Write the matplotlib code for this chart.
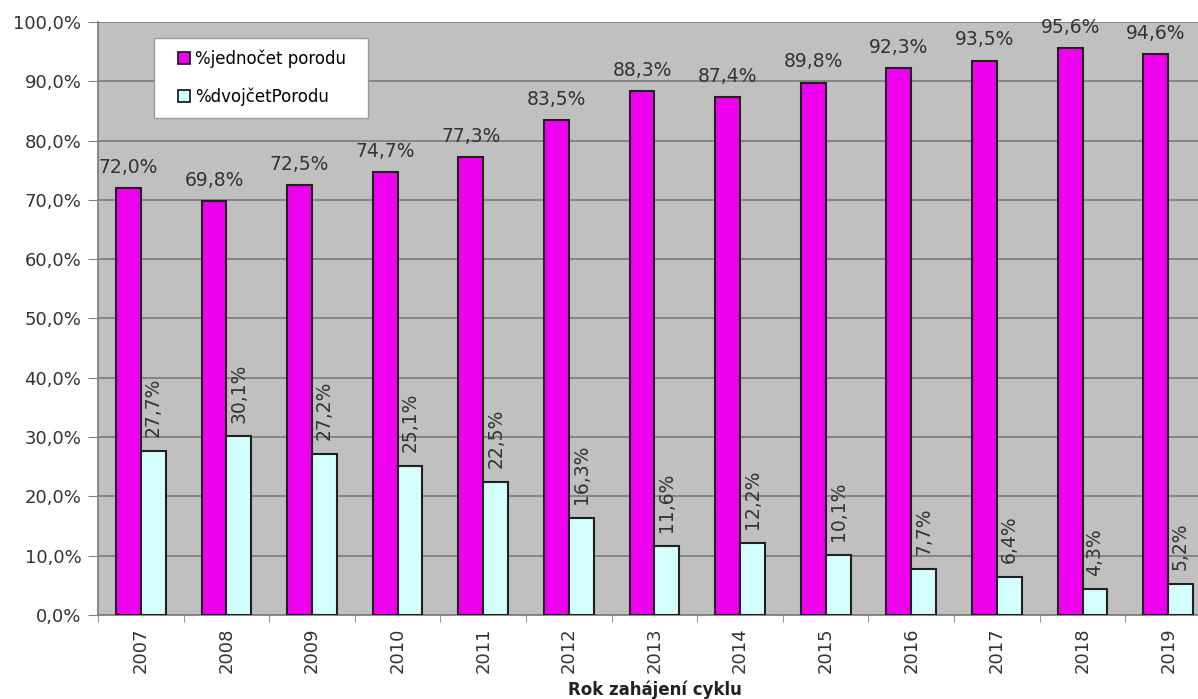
import numpy as np
import matplotlib.pyplot as plt
from matplotlib.ticker import FuncFormatter
from matplotlib.lines import Line2D

years = ['2007', '2008', '2009', '2010', '2011', '2012', '2013',
         '2014', '2015', '2016', '2017', '2018', '2019']
jednocet = [72.0, 69.8, 72.5, 74.7, 77.3, 83.5, 88.3, 87.4, 89.8, 92.3, 93.5, 95.6, 94.6]
dvojcet = [27.7, 30.1, 27.2, 25.1, 22.5, 16.3, 11.6, 12.2, 10.1, 7.7, 6.4, 4.3, 5.2]

plt.rcParams['font.family'] = ['DejaVu Sans']

barva1 = '#ee00ee'
barva2 = '#d4ffff'

def pct(v):
    return ('%.1f%%' % v).replace('.', ',')

fig = plt.figure(figsize=(11.98, 6.99), dpi=100)
ax = fig.add_axes([0.0818, 0.1202, 0.929, 0.8483])
ax.set_facecolor('#c0c0c0')

x = np.arange(len(years))
w = 0.29
ax.bar(x - w / 2, jednocet, w, color=barva1, edgecolor='#202020', linewidth=1.5, zorder=3)
ax.bar(x + w / 2, dvojcet, w, color=barva2, edgecolor='#202020', linewidth=1.5, zorder=3)

# popisky hodnot
for xi, v in zip(x, jednocet):
    ax.annotate(pct(v), (xi - w / 2, v), xytext=(0, 8), textcoords='offset points',
                ha='center', va='bottom', fontsize=13.5, color='#333333')
for xi, v in zip(x, dvojcet):
    ax.annotate(pct(v), (xi + w / 2, v), xytext=(0, 10), textcoords='offset points',
                ha='center', va='bottom', rotation=90, fontsize=13.5, color='#333333')

ax.set_xlim(-0.5, len(years) - 0.5)
ax.set_ylim(0, 100)
ax.set_yticks(np.arange(0, 101, 10))
ax.yaxis.set_major_formatter(FuncFormatter(lambda v, p: pct(v)))
ax.grid(axis='y', color='#808080', linewidth=1.3, zorder=0)
ax.set_axisbelow(True)

ax.set_xticks(x)
ax.set_xticklabels(years, rotation=90, fontsize=13, color='#333333')
ax.set_xticks(np.arange(-0.5, len(years), 1), minor=True)
ax.tick_params(axis='x', which='major', length=0, pad=9)
ax.tick_params(axis='x', which='minor', length=5, color='#808080')
ax.tick_params(axis='y', labelsize=13, labelcolor='#333333', length=7, color='#808080', pad=5)
for s in ['top', 'right']:
    ax.spines[s].set_visible(False)
ax.spines['left'].set_color('#808080')
ax.spines['bottom'].set_color('#808080')
ax.spines['left'].set_linewidth(1.3)
ax.spines['bottom'].set_linewidth(1.3)

ax.set_xlabel('Rok zahájení cyklu', fontsize=12, fontweight='bold', color='#222222', labelpad=5)

handles = [Line2D([], [], linestyle='none', marker='s', markersize=8.5,
                  markerfacecolor=barva1, markeredgecolor='#202020', markeredgewidth=1.3),
           Line2D([], [], linestyle='none', marker='s', markersize=8.5,
                  markerfacecolor=barva2, markeredgecolor='#202020', markeredgewidth=1.3)]
leg = ax.legend(handles, ['%jednočet porodu  ', '%dvojčetPorodu'], loc='upper left',
                bbox_to_anchor=(0.0505, 0.973), fontsize=12, frameon=True, fancybox=False,
                facecolor='white', framealpha=1, edgecolor='#999999',
                handlelength=2.2, handletextpad=-0.45, borderpad=0.7, labelspacing=1.15,
                borderaxespad=0)
leg.get_frame().set_linewidth(1.0)

fig.savefig('out.png', dpi=100)
